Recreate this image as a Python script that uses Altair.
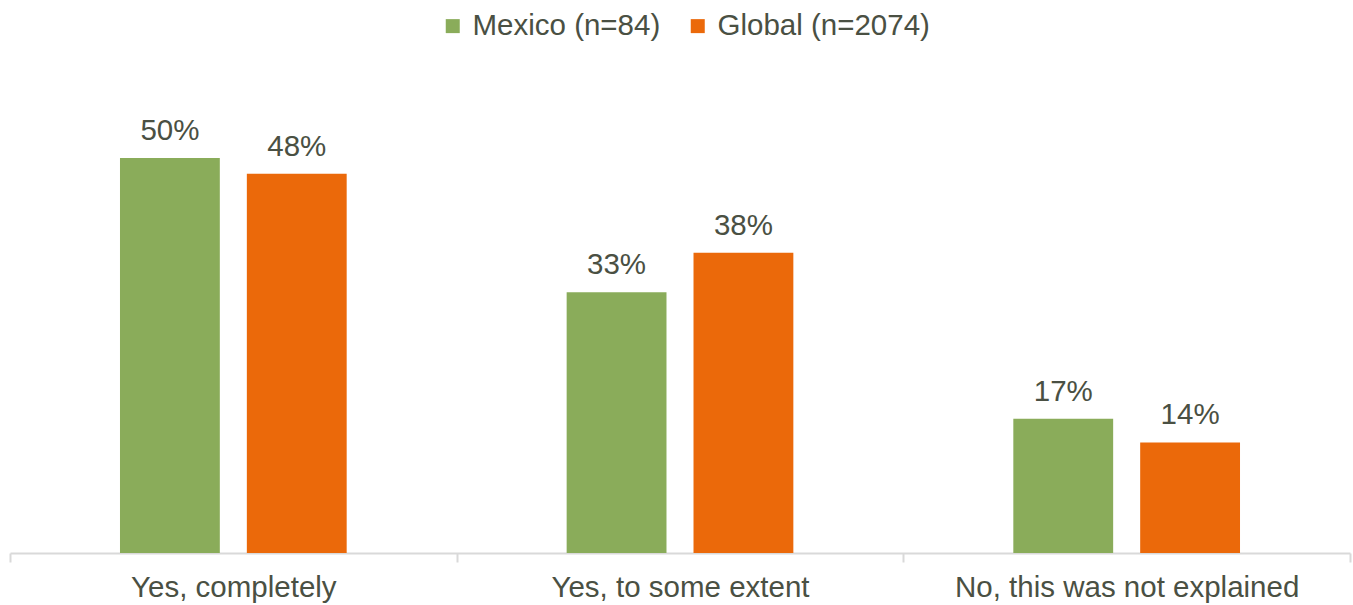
import altair as alt
import pandas as pd

categories = ["Yes, completely", "Yes, to some extent", "No, this was not explained"]
series = ["Mexico (n=84)", "Global (n=2074)"]
mexico = [0.50, 0.33, 0.17]
global_ = [0.48, 0.38, 0.14]
colors = ["#8AAC5A", "#EB690A"]

rows = []
for c, m, g in zip(categories, mexico, global_):
    rows.append({"category": c, "series": series[0], "value": m})
    rows.append({"category": c, "series": series[1], "value": g})
df = pd.DataFrame(rows)

FONT = "Liberation Sans"
TXT = "#4A5043"
FS = 29.5

x = alt.X("category:N", sort=categories, title=None,
          scale=alt.Scale(paddingInner=0, paddingOuter=0),
          axis=alt.Axis(labelAngle=0, labelFontSize=FS, labelFont=FONT, labelColor=TXT,
                        domainColor="#D9D9D9", domainWidth=2, tickColor="#D9D9D9", tickWidth=2,
                        tickSize=9, tickBand="extent", labelPadding=11, labelLimit=600))
xo = alt.XOffset("series:N", sort=series,
                 scale=alt.Scale(paddingInner=0.213, paddingOuter=0.867))
y = alt.Y("value:Q", scale=alt.Scale(domain=[0, 0.6]), axis=None)

bars = alt.Chart(df).mark_bar().encode(
    x=x, xOffset=xo, y=y,
    color=alt.Color("series:N", sort=series,
                    scale=alt.Scale(domain=series, range=colors),
                    legend=alt.Legend(title=None, orient="none", direction="horizontal",
                                      legendX=428, legendY=-68,
                                      symbolType="square", symbolSize=196, symbolStrokeWidth=0,
                                      labelFontSize=FS, labelFont=FONT, labelColor=TXT,
                                      labelLimit=500, labelOffset=5, columnPadding=22)),
)

labels = alt.Chart(df).mark_text(fontSize=FS, font=FONT, color=TXT, baseline="alphabetic", dy=-18).encode(
    x=x, xOffset=xo, y=y,
    text=alt.Text("value:Q", format=".0%"),
)

chart = (bars + labels).properties(
    width=1340, height=474,
    background="white",
    autosize=alt.AutoSizeParams(type="none"),
    padding={"left": 10, "top": 79, "right": 3, "bottom": 52},
).configure_view(stroke="transparent", strokeWidth=0)

chart.save("out.html", embed_options={"renderer": "svg", "actions": False})
